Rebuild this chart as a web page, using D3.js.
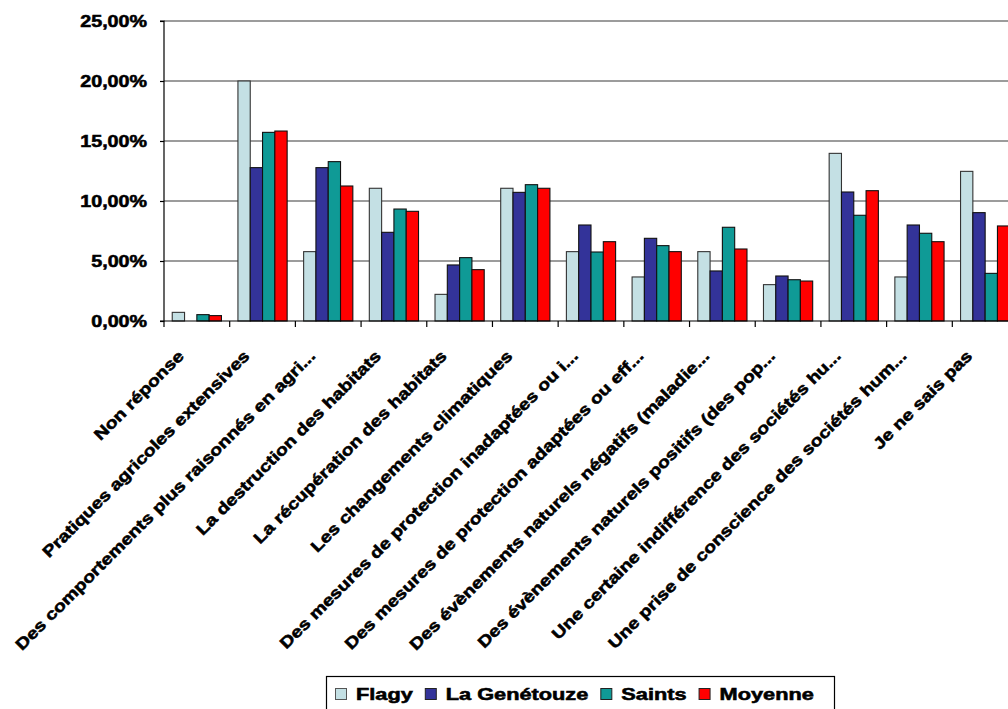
<!DOCTYPE html>
<html>
<head>
<meta charset="utf-8">
<script src="https://cdn.jsdelivr.net/npm/d3@7"></script>
<style>
  html, body { margin: 0; padding: 0; background: #fff; overflow: hidden; }
  svg { display: block; }
  text { font-family: "Liberation Sans", Arial, sans-serif; font-weight: bold; fill: #000; stroke: #000; stroke-width: 0.55px; }
</style>
</head>
<body>
<svg id="chart" width="1008" height="709"></svg>
<script>
const categories = [
  "Non réponse",
  "Pratiques agricoles extensives",
  "Des comportements plus raisonnés en agri...",
  "La destruction des habitats",
  "La récupération des habitats",
  "Les changements climatiques",
  "Des mesures de protection inadaptées ou i...",
  "Des mesures de protection adaptées ou eff...",
  "Des évènements naturels négatifs (maladie...",
  "Des évènements naturels positifs (des pop...",
  "Une certaine indifférence des sociétés hu...",
  "Une prise de conscience des sociétés hum...",
  "Je ne sais pas"
];
const seriesNames = ["Flagy", "La Genétouze", "Saints", "Moyenne"];
const flagy      = [0.72, 20.0, 5.78, 11.06, 2.22, 11.06, 5.78, 3.67, 5.78, 3.03, 13.97, 3.67, 12.47];
const genetouze  = [0.0, 12.78, 12.78, 7.39, 4.67, 10.72, 8.0, 6.89, 4.17, 3.75, 10.75, 8.0, 9.03];
const saints     = [0.53, 15.72, 13.28, 9.33, 5.28, 11.36, 5.75, 6.28, 7.81, 3.44, 8.81, 7.31, 3.97];
const moyenne    = [0.45, 15.83, 11.25, 9.14, 4.28, 11.06, 6.61, 5.78, 6.0, 3.33, 10.86, 6.61, 7.92];
const yTicks = [0, 5, 10, 15, 20, 25];
const colors = ["#C4E0E4", "#333399", "#0F9A96", "#FF0000"];

const seriesValues = [flagy, genetouze, saints, moyenne];
const svg = d3.select("#chart");

const plot = { left: 164, right: 1018, top: 21, bottom: 321 };

const x0 = d3.scaleBand().domain(categories).range([plot.left, plot.right]).paddingInner(0).paddingOuter(0);
const x1 = d3.scaleBand().domain(seriesNames).range([0, x0.bandwidth()]).paddingInner(0).paddingOuter(0.67);
const y = d3.scaleLinear().domain([0, 25]).range([plot.bottom, plot.top]);

const fmt = d3.formatLocale({ decimal: ",", thousands: " ", grouping: [3], currency: ["", "€"] }).format(".2f");

// gridlines
svg.append("g")
  .selectAll("line")
  .data(yTicks.filter(d => d > 0))
  .join("line")
  .attr("x1", plot.left).attr("x2", plot.right)
  .attr("y1", d => y(d)).attr("y2", d => y(d))
  .attr("stroke", "#3a3a3a").attr("stroke-width", 1.2);

// bars
const groups = svg.append("g")
  .selectAll("g")
  .data(categories)
  .join("g")
  .attr("transform", d => `translate(${x0(d)},0)`);

groups.selectAll("rect")
  .data((c, i) => seriesNames.map((s, j) => ({ s, j, v: seriesValues[j][i] })))
  .join("rect")
  .attr("x", d => x1(d.s))
  .attr("width", x1.bandwidth())
  .attr("y", d => y(d.v))
  .attr("height", d => y(0) - y(d.v))
  .attr("fill", d => colors[d.j])
  .attr("stroke", d => d.j === 0 ? "#333" : "#111")
  .attr("stroke-width", 1.1);

// y axis
const yAxis = d3.axisLeft(y).tickValues(yTicks).tickSize(4).tickFormat(d => fmt(d) + "%");
const gy = svg.append("g").attr("transform", `translate(${plot.left},0)`).call(yAxis);
gy.select(".domain").attr("stroke", "#000").attr("stroke-width", 1.2).attr("d", `M-4,${plot.top}H0V${plot.bottom}H-4`);
gy.selectAll(".tick line").attr("stroke", "#000").attr("stroke-width", 1.2);
gy.selectAll(".tick text")
  .attr("x", 0).attr("dy", null)
  .attr("dominant-baseline", "middle")
  .attr("text-anchor", "end")
  .attr("font-size", 16)
  .attr("transform", "translate(-17,1) scale(1.23,1)");
gy.attr("font-family", null).attr("font-size", null);

// x axis
const xAxis = d3.axisBottom(x0).tickSize(0).tickFormat("");
const gx = svg.append("g").attr("transform", `translate(0,${plot.bottom})`).call(xAxis);
gx.select(".domain").attr("stroke", "#000").attr("stroke-width", 1.2).attr("d", `M${plot.left},0H${plot.right}`);
gx.append("g").selectAll("line")
  .data(categories.map(c => x0(c)).concat([plot.right]))
  .join("line")
  .attr("x1", d => d).attr("x2", d => d)
  .attr("y1", 0).attr("y2", 6)
  .attr("stroke", "#000").attr("stroke-width", 1.2);

// rotated category labels
svg.append("g")
  .selectAll("text")
  .data(categories)
  .join("text")
  .attr("transform", d => `translate(${x0(d) + x0.bandwidth() / 2 - 12},${plot.bottom + 36}) rotate(-45) scale(1.22,1)`)
  .attr("text-anchor", "end")
  .attr("font-size", 16)
  .text(d => d);

// legend
const lg = svg.append("g");
lg.append("rect")
  .attr("x", 326.5).attr("y", 676.5).attr("width", 508).attr("height", 60)
  .attr("fill", "#fff").attr("stroke", "#000").attr("stroke-width", 1.2);
const legendScale = 1.36;
let lx = 335;
seriesNames.forEach((s, j) => {
  lg.append("rect")
    .attr("x", lx + 0.5).attr("y", 688.5).attr("width", 11).attr("height", 11)
    .attr("fill", colors[j]).attr("stroke", j === 0 ? "#555" : "#222").attr("stroke-width", 1);
  const tx = lx + 21;
  const t = lg.append("text")
    .attr("transform", `translate(${tx},699.5) scale(${legendScale},1)`)
    .attr("font-size", 16)
    .text(s);
  const w = t.node().getComputedTextLength() * legendScale;
  lx = tx + w + 12;
});
</script>
</body>
</html>
